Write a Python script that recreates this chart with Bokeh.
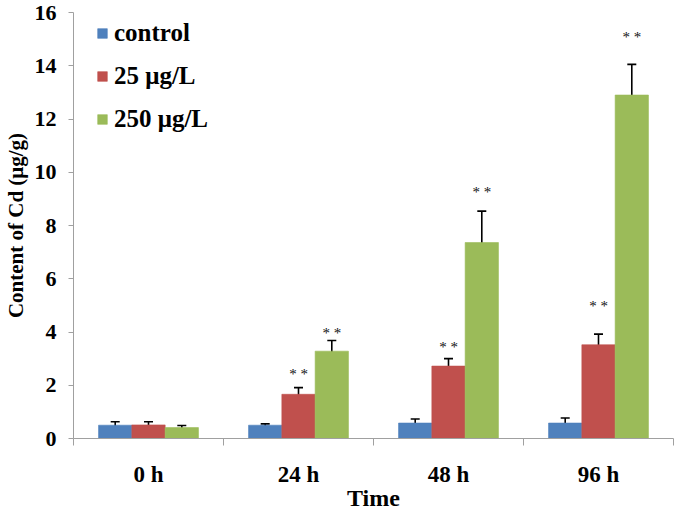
from bokeh.plotting import figure
from bokeh.models import (ColumnDataSource, Range1d, FixedTicker, Whisker, TeeHead,
                          Legend, LegendItem)
from bokeh.core.properties import value
from bokeh.embed import file_html
from bokeh.resources import INLINE

# ---- data ----
times = ["0 h", "24 h", "48 h", "96 h"]
series_names = ["control", "25 μg/L", "250 μg/L"]
control = [0.50, 0.50, 0.58, 0.58]
control_err = [0.13, 0.05, 0.15, 0.19]
cd25 = [0.51, 1.66, 2.72, 3.52]
cd25_err = [0.12, 0.25, 0.28, 0.40]
cd250 = [0.41, 3.28, 7.36, 12.90]
cd250_err = [0.08, 0.40, 1.18, 1.15]
# significance marks (time index, height of the "**")
sig25_idx = [1, 2, 3]
sig25_y = [2.42, 3.42, 4.97]
sig250_idx = [1, 2, 3]
sig250_y = [3.97, 9.25, 15.07]
yticks = [0, 2, 4, 6, 8, 10, 12, 14, 16]

colors = ["#4F81BD", "#C0504D", "#9BBB59"]
FONT = "Liberation Serif"
AXIS_COLOR = "#A0A0A0"

p = figure(width=675, height=513, output_backend="svg", toolbar_location=None,
           x_range=Range1d(0, 4), y_range=Range1d(0, 16),
           min_border_left=73, min_border_right=2, min_border_top=12, min_border_bottom=75)
p.outline_line_color = None
p.xgrid.visible = False
p.ygrid.visible = False
p.background_fill_color = "white"
p.border_fill_color = "white"

bw = 0.222
offsets = [-bw, 0.0, bw]
all_vals = [control, cd25, cd250]
all_errs = [control_err, cd25_err, cd250_err]

legend_items = []
for k in range(3):
    xs = [i + 0.5 + offsets[k] for i in range(len(times))]
    vals = all_vals[k]
    errs = all_errs[k]
    src = ColumnDataSource(dict(x=xs, top=vals,
                                upper=[v + e for v, e in zip(vals, errs)],
                                lower=[v - e for v, e in zip(vals, errs)]))
    r = p.vbar(x="x", top="top", bottom=0, width=bw, source=src,
               fill_color=colors[k], line_color=colors[k], line_alpha=0.6)
    legend_items.append(LegendItem(label=series_names[k], renderers=[r]))
    w = Whisker(source=src, base="x", upper="upper", lower="lower",
                line_color="black", line_width=1.6,
                upper_head=TeeHead(size=9, line_color="black", line_width=1.6),
                lower_head=TeeHead(size=9, line_color="black", line_width=1.6))
    p.add_layout(w)

# significance stars
star_src25 = ColumnDataSource(dict(x=[i + 0.5 + offsets[1] for i in sig25_idx], y=sig25_y,
                                   t=["* *"] * len(sig25_idx)))
star_src250 = ColumnDataSource(dict(x=[i + 0.5 + offsets[2] for i in sig250_idx], y=sig250_y,
                                    t=["* *"] * len(sig250_idx)))
for s in (star_src25, star_src250):
    p.text(x="x", y="y", text="t", source=s, text_font=value(FONT),
           text_font_size="15px", text_color="#111111",
           text_align="center", text_baseline="middle")

# y axis
p.yaxis.ticker = FixedTicker(ticks=yticks)
p.yaxis.minor_tick_line_color = None
p.yaxis.major_tick_out = 5
p.yaxis.major_tick_in = 0
p.yaxis.major_label_standoff = 12
p.yaxis.axis_line_color = AXIS_COLOR
p.yaxis.major_tick_line_color = AXIS_COLOR
p.yaxis.major_label_text_font = FONT
p.yaxis.major_label_text_font_style = "bold"
p.yaxis.major_label_text_font_size = "22px"
p.yaxis.major_label_text_color = "black"
p.yaxis.axis_label = "Content of Cd (μg/g)"
p.yaxis.axis_label_text_font = FONT
p.yaxis.axis_label_text_font_style = "bold"
p.yaxis.axis_label_text_font_size = "21px"
p.yaxis.axis_label_text_color = "black"
p.yaxis.axis_label_standoff = 4

# x axis: labels at category centers, ticks at boundaries
p.xaxis.ticker = FixedTicker(ticks=[i + 0.5 for i in range(len(times))],
                             minor_ticks=list(range(len(times) + 1)))
p.xaxis.major_label_overrides = {i + 0.5: t for i, t in enumerate(times)}
p.xaxis.major_tick_out = 0
p.xaxis.major_tick_in = 0
p.xaxis.minor_tick_out = 7
p.xaxis.minor_tick_in = 0
p.xaxis.minor_tick_line_color = AXIS_COLOR
p.xaxis.axis_line_color = AXIS_COLOR
p.xaxis.major_label_standoff = 16
p.xaxis.major_label_text_font = FONT
p.xaxis.major_label_text_font_style = "bold"
p.xaxis.major_label_text_font_size = "23px"
p.xaxis.major_label_text_color = "black"
p.xaxis.axis_label = "Time"
p.xaxis.axis_label_text_font = FONT
p.xaxis.axis_label_text_font_style = "bold"
p.xaxis.axis_label_text_font_size = "24px"
p.xaxis.axis_label_text_color = "black"
p.xaxis.axis_label_standoff = -5

legend = Legend(items=legend_items, location=(23, 305), orientation="vertical",
                glyph_width=12, glyph_height=12, label_standoff=6,
                label_height=20, spacing=15, padding=0, margin=0,
                border_line_alpha=0, background_fill_alpha=0,
                label_text_font=FONT, label_text_font_style="bold",
                label_text_font_size="25px", label_text_color="black")
p.add_layout(legend)

open("out.html", "w").write(file_html(p, INLINE))
